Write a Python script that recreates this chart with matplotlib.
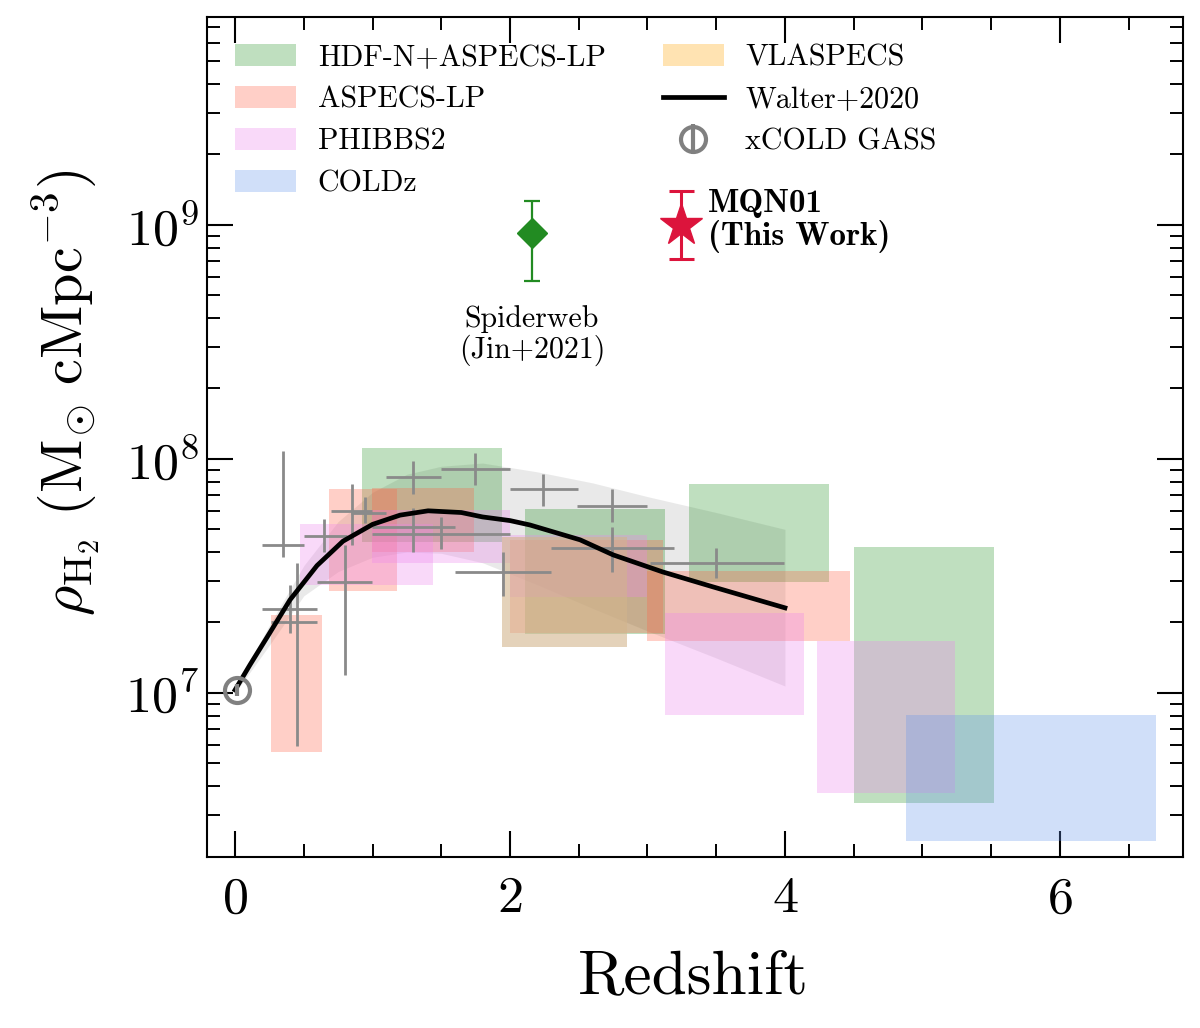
import matplotlib
matplotlib.use('Agg')
import matplotlib.pyplot as plt
import numpy as np
from matplotlib.patches import Patch
from matplotlib.ticker import MultipleLocator, LogLocator, NullFormatter

plt.rcParams.update({
    'font.family': 'serif',
    'font.serif': ['cmr10'],
    'mathtext.fontset': 'cm',
    'axes.formatter.use_mathtext': True,
    'axes.unicode_minus': False,
})

# ---------------- data ----------------
# survey boxes: redshift range and rho_H2 range
hdfn_z_lo = [0.92, 2.11, 3.30, 4.50]
hdfn_z_hi = [1.94, 3.13, 4.32, 5.52]
hdfn_rho_lo = [4.4e7, 1.79e7, 2.98e7, 3.38e6]
hdfn_rho_hi = [1.11e8, 6.1e7, 7.8e7, 4.2e7]

aspecs_z_lo = [0.26, 0.684, 0.996, 2.0, 3.0]
aspecs_z_hi = [0.635, 1.176, 1.738, 3.11, 4.47]
aspecs_rho_lo = [5.6e6, 2.73e7, 4.0e7, 1.81e7, 1.67e7]
aspecs_rho_hi = [2.15e7, 7.45e7, 7.54e7, 4.5e7, 3.32e7]

phibbs_z_lo = [0.473, 0.996, 2.0, 3.13, 4.233]
phibbs_z_hi = [1.44, 2.0, 3.0, 4.14, 5.24]
phibbs_rho_lo = [2.9e7, 3.6e7, 2.57e7, 8.06e6, 3.74e6]
phibbs_rho_hi = [5.27e7, 6.05e7, 4.73e7, 2.2e7, 1.66e7]

coldz_z_lo = [4.88]
coldz_z_hi = [6.70]
coldz_rho_lo = [2.34e6]
coldz_rho_hi = [8.07e6]

vla_z_lo = [1.94]
vla_z_hi = [2.85]
vla_rho_lo = [1.57e7]
vla_rho_hi = [4.64e7]

# grey literature points (crosses)
lit_z = [0.347, 0.40, 0.449, 0.647, 0.798, 0.849, 0.945, 1.297, 1.743, 1.297, 1.496, 2.242, 1.947, 2.744, 2.744, 3.496]
lit_z_lo = [0.198, 0.198, 0.26, 0.502, 0.599, 0.696, 0.84, 1.098, 1.496, 0.996, 0.996, 2.0, 1.6, 2.49, 2.296, 3.018]
lit_z_hi = [0.499, 0.599, 0.599, 0.812, 0.996, 0.994, 1.10, 1.496, 2.0, 1.6, 2.0, 2.497, 2.296, 2.994, 3.195, 3.993]
lit_rho = [4.29e7, 2.29e7, 2.0e7, 4.7e7, 2.99e7, 6.0e7, 5.9e7, 8.4e7, 9.04e7, 5.1e7, 4.78e7, 7.41e7, 3.3e7, 6.3e7, 4.18e7, 3.6e7]
lit_rho_lo = [3.8e7, 1.8e7, 5.94e6, 3.99e7, 1.19e7, 4.29e7, 5.3e7, 7.08e7, 7.7e7, 4.0e7, 4.11e7, 6.3e7, 2.6e7, 5.4e7, 3.3e7, 3.11e7]
lit_rho_hi = [1.08e8, 2.9e7, 3.58e7, 5.52e7, 4.29e7, 7.8e7, 6.9e7, 9.8e7, 1.06e8, 6.18e7, 5.66e7, 8.6e7, 4.0e7, 7.43e7, 5.1e7, 4.18e7]

# Walter+2020 curve and band
walter_z = [0.0, 0.109, 0.233, 0.4, 0.596, 0.785, 1.0, 1.2, 1.404, 1.646, 1.8, 2.0, 2.145, 2.51, 2.75, 3.11, 3.476, 4.0]
walter_rho = [1.03e7, 1.32e7, 1.73e7, 2.5e7, 3.5e7, 4.45e7, 5.25e7, 5.75e7, 6.0e7, 5.9e7, 5.65e7, 5.45e7, 5.22e7, 4.51e7, 3.89e7, 3.29e7, 2.84e7, 2.31e7]
band_z = [0.0, 0.25, 0.5, 0.75, 1.0, 1.25, 1.5, 1.8, 2.2, 2.6, 3.0, 3.5, 4.0]
band_hi = [1.05e7, 1.95e7, 3.5e7, 5.4e7, 7.2e7, 8.6e7, 9.3e7, 9.6e7, 8.8e7, 7.9e7, 6.9e7, 5.9e7, 5.0e7]
band_lo = [1.0e7, 1.6e7, 2.6e7, 3.3e7, 3.8e7, 4.0e7, 3.95e7, 3.6e7, 2.9e7, 2.3e7, 1.84e7, 1.41e7, 1.07e7]

# single points
xcold_z, xcold_rho, xcold_lo, xcold_hi = 0.015, 1.03e7, 0.97e7, 1.09e7
spider_z, spider_rho, spider_lo, spider_hi = 2.16, 9.2e8, 5.73e8, 1.27e9
mqn_z, mqn_rho, mqn_lo, mqn_hi = 3.241, 1.0e9, 7.13e8, 1.39e9

# ---------------- figure ----------------
fig = plt.figure(figsize=(12, 10.28), dpi=100)
ax = fig.add_axes([0.1725, 0.1663, 0.8133, 0.8172])

ax.fill_between(band_z, band_lo, band_hi, color='gray', alpha=0.17, lw=0, zorder=1)

def boxes(zlo, zhi, rlo, rhi, color, alpha, label):
    for i in range(len(zlo)):
        ax.fill_between([zlo[i], zhi[i]], [rlo[i]] * 2, [rhi[i]] * 2, color=color,
                        alpha=alpha, lw=0, zorder=2, label=label if i == 0 else None)

boxes(hdfn_z_lo, hdfn_z_hi, hdfn_rho_lo, hdfn_rho_hi, 'green', 0.25, 'HDF-N+ASPECS-LP')
boxes(aspecs_z_lo, aspecs_z_hi, aspecs_rho_lo, aspecs_rho_hi, 'tomato', 0.3, 'ASPECS-LP')
boxes(phibbs_z_lo, phibbs_z_hi, phibbs_rho_lo, phibbs_rho_hi, 'violet', 0.3, 'PHIBBS2')
boxes(coldz_z_lo, coldz_z_hi, coldz_rho_lo, coldz_rho_hi, 'cornflowerblue', 0.3, 'COLDz')
boxes(vla_z_lo, vla_z_hi, vla_rho_lo, vla_rho_hi, 'tan', 0.6, None)

lz = np.array(lit_z); lr = np.array(lit_rho)
ax.errorbar(lz, lr, xerr=[lz - np.array(lit_z_lo), np.array(lit_z_hi) - lz],
            yerr=[lr - np.array(lit_rho_lo), np.array(lit_rho_hi) - lr],
            fmt='none', ecolor='#8a8a8a', elinewidth=2.0, capsize=0, zorder=3)

walter_line, = ax.plot(walter_z, walter_rho, color='black', lw=3.4, zorder=4,
                       solid_joinstyle='round', label='Walter+2020')

xc = ax.errorbar([xcold_z], [xcold_rho], yerr=[[xcold_rho - xcold_lo], [xcold_hi - xcold_rho]],
                 fmt='o', ms=18, mfc='none', mec='gray', mew=3.0, ecolor='gray',
                 elinewidth=3.0, capsize=0, zorder=5, label='xCOLD GASS')

ax.errorbar([spider_z], [spider_rho], yerr=[[spider_rho - spider_lo], [spider_hi - spider_rho]],
            fmt='D', ms=15, color='forestgreen', elinewidth=1.6, capsize=5.6, capthick=1.6, zorder=6)
ax.text(spider_z, 3.36e8, 'Spiderweb\n(Jin+2021)', ha='center', va='center', fontsize=21.5,
        linespacing=1.05)

ax.errorbar([mqn_z], [mqn_rho], yerr=[[mqn_rho - mqn_lo], [mqn_hi - mqn_rho]],
            fmt='*', ms=32, color='crimson', elinewidth=2.2, capsize=9, capthick=2.2, zorder=6)
ax.text(3.44, 1.04e9, 'MQN01\n(This Work)', ha='left', va='center', fontsize=23.8,
        fontfamily='cmb10', linespacing=1.08)

ax.set_yscale('log')
ax.set_xlim(-0.204, 6.895)
ax.set_ylim(10 ** 6.299, 10 ** 9.888)

ax.xaxis.set_major_locator(MultipleLocator(2))
ax.xaxis.set_minor_locator(MultipleLocator(0.5))
ax.yaxis.set_major_locator(LogLocator(base=10, numticks=20))
ax.yaxis.set_minor_locator(LogLocator(base=10, subs=np.arange(2, 10), numticks=20))
ax.yaxis.set_minor_formatter(NullFormatter())

ax.tick_params(which='both', direction='in', top=True, right=True)
ax.tick_params(which='major', length=18.7, width=1.5, labelsize=37.5)
ax.tick_params(which='minor', length=9.4, width=1.4)
ax.tick_params(axis='x', which='major', pad=14)
ax.tick_params(axis='y', which='major', pad=6)
for s in ax.spines.values():
    s.set_linewidth(1.5)

ax.set_xlabel('Redshift', fontsize=45.5)
ax.xaxis.set_label_coords(0.498, -0.111)
ax.set_ylabel(r'$\rho_{\rm H_2}\ ({\rm M}_{\!\odot}\,{\rm cMpc}^{-3})$', fontsize=42)
ax.yaxis.set_label_coords(-0.108, 0.553)

h, l = ax.get_legend_handles_labels()
hd = dict(zip(l, h))
vla_proxy = Patch(facecolor='orange', alpha=0.3, lw=0)
handles = [hd['HDF-N+ASPECS-LP'], hd['ASPECS-LP'], hd['PHIBBS2'], hd['COLDz'],
           vla_proxy, walter_line, xc]
labels = ['HDF-N+ASPECS-LP', 'ASPECS-LP', 'PHIBBS2', 'COLDz', 'VLASPECS', 'Walter+2020', 'xCOLD GASS']
ax.legend(handles, labels, ncol=2, loc='upper left', bbox_to_anchor=(0.0287, 0.9678),
          frameon=False, fontsize=21.6, handlelength=2.03, handleheight=0.77,
          handletextpad=0.73, columnspacing=1.9, labelspacing=0.48,
          borderpad=0, borderaxespad=0)

fig.savefig('out.png', dpi=100)
